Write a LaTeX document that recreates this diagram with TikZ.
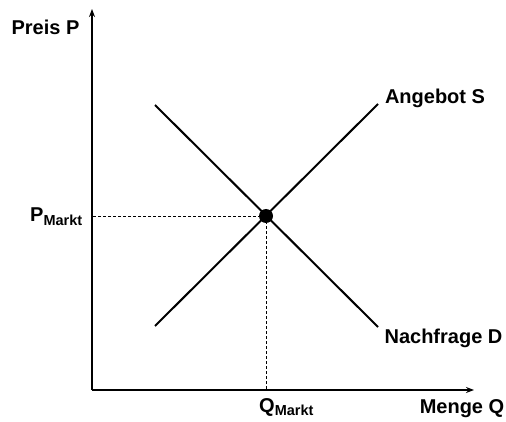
\documentclass[tikz,border=0pt]{standalone}
\usepackage{fontspec}
\setmainfont{Liberation Sans}
\usetikzlibrary{arrows.meta}
\begin{document}
\begin{tikzpicture}[x=1pt,y=-1pt,
  lbl/.style={font=\fontsize{20}{24}\selectfont\bfseries, inner sep=0pt},
  axis/.style={line width=1.4pt, -{Stealth[length=8pt,width=6pt]}},
  curve/.style={line width=2pt},
  guide/.style={line width=0.7pt, dash pattern=on 3pt off 2pt}]
\useasboundingbox (0,0) rectangle (506,422);
\coordinate (O) at (92,390);
\coordinate (ytip) at (92,9);
\coordinate (xtip) at (474,390);
\coordinate (S1) at (155,326);
\coordinate (S2) at (378,104);
\coordinate (D1) at (155,105);
\coordinate (D2) at (378,327);
\draw[axis] (O) -- (ytip);
\draw[axis] (O) -- (xtip);
\draw[curve] (S1) -- (S2);
\draw[curve] (D1) -- (D2);
\node[circle, fill=black, minimum size=14pt, inner sep=0pt] (E) at (266,216) {};
\draw[guide] (E.center) -- (E.center -| O);
\draw[guide] (E.center) -- (E.center |- O);
\node[lbl, anchor=base] (preis) at (45.5,35) {Preis P};
\node[lbl, anchor=base] (ang) at (435,103.5) {Angebot S};
\node[lbl, anchor=base] (nach) at (443.5,343) {Nachfrage D};
\node[lbl, anchor=base] (menge) at (462,413.5) {Menge Q};
\node[lbl, anchor=base west] (pm) at (30,222) {P$_{\mbox{\fontsize{14.5}{16}\selectfont\bfseries Markt}}$};
\node[lbl, anchor=base west] (qm) at (259,412) {Q$_{\mbox{\fontsize{14.5}{16}\selectfont\bfseries Markt}}$};
\end{tikzpicture}
\end{document}
